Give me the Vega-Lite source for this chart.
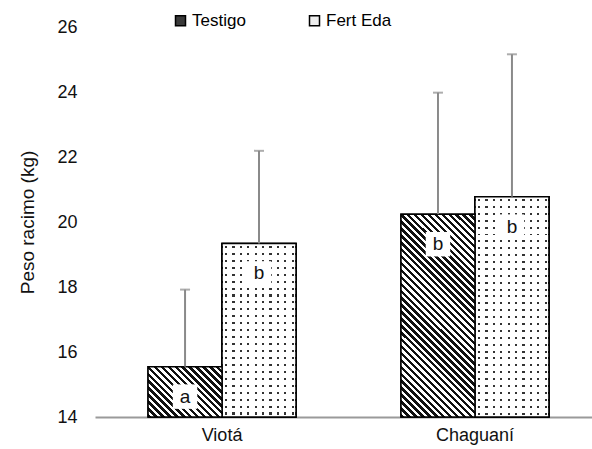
{
  "$schema": "https://vega.github.io/schema/vega-lite/v6.json",
  "autosize": {"type": "none"},
  "padding": {"left": 95, "top": 27, "right": 0, "bottom": 32},
  "width": 497,
  "height": 390,
  "background": "white",
  "config": {
    "font": "Liberation Sans",
    "view": {"stroke": null},
    "axis": {"labelFont": "Liberation Sans", "titleFont": "Liberation Sans", "labelColor": "#111", "titleColor": "#111"},
    "legend": {"labelFont": "Liberation Sans"}
  },
  "data": {
    "values": [
      {"cat": "Viotá", "trat": "Testigo", "mean": 15.55, "upper": 17.92, "letra": "a"},
      {"cat": "Viotá", "trat": "Fert Eda", "mean": 19.34, "upper": 22.19, "letra": "b"},
      {"cat": "Chaguaní", "trat": "Testigo", "mean": 20.24, "upper": 23.98, "letra": "b"},
      {"cat": "Chaguaní", "trat": "Fert Eda", "mean": 20.78, "upper": 25.16, "letra": "b"}
    ]
  },
  "encoding": {
    "x": {
      "field": "cat", "type": "nominal", "sort": ["Viotá", "Chaguaní"],
      "scale": {"paddingInner": 0.415, "paddingOuter": 0.19, "align": 0.552},
      "axis": {"title": null, "labelAngle": 0, "labelFontSize": 18, "labelPadding": 9, "ticks": false, "domainColor": "#9a9a9a", "domainWidth": 2}
    },
    "xOffset": {"field": "trat", "type": "nominal", "sort": ["Testigo", "Fert Eda"], "scale": {"paddingInner": 0, "paddingOuter": 0}}
  },
  "layer": [
    {
      "mark": {"type": "bar", "stroke": "black", "strokeWidth": 1.5},
      "encoding": {
        "y": {"field": "mean", "type": "quantitative", "scale": {"domain": [14, 26], "zero": false, "nice": false},
          "axis": {"title": "Peso racimo (kg)", "titleFontSize": 19, "titleFontWeight": "normal", "titlePadding": 19, "labelFontSize": 18, "labelPadding": 18, "values": [14, 16, 18, 20, 22, 24, 26], "grid": false, "ticks": false, "domain": false}},
        "y2": {"datum": 14},
        "fill": {"field": "trat", "type": "nominal", "sort": ["Testigo", "Fert Eda"],
          "scale": {"range": ["#3a3a3a", "#eeeeee"]},
          "legend": {"title": null, "orient": "none", "legendX": 77, "legendY": -15, "direction": "horizontal", "labelFontSize": 17, "labelOffset": 3, "columnPadding": 60, "symbolType": "square", "symbolSize": 100, "symbolStrokeColor": "black", "symbolStrokeWidth": 1.5, "padding": 0}}
      }
    },
    {
      "transform": [{"filter": "datum.trat == 'Fert Eda'"}],
      "mark": {"type": "bar", "stroke": "black", "strokeWidth": 1.5,
        "fill": {"gradient": "linear", "x1": 0, "y1": 0, "x2": 1, "y2": 0, "stops": [
          {"offset": 0, "color": "#fff"},
          {"offset": 0.04, "color": "#fff"}, {"offset": 0.04, "color": "#333"}, {"offset": 0.07, "color": "#333"}, {"offset": 0.07, "color": "#fff"},
          {"offset": 0.14, "color": "#fff"}, {"offset": 0.14, "color": "#333"}, {"offset": 0.17, "color": "#333"}, {"offset": 0.17, "color": "#fff"},
          {"offset": 0.24, "color": "#fff"}, {"offset": 0.24, "color": "#333"}, {"offset": 0.27, "color": "#333"}, {"offset": 0.27, "color": "#fff"},
          {"offset": 0.34, "color": "#fff"}, {"offset": 0.34, "color": "#333"}, {"offset": 0.37, "color": "#333"}, {"offset": 0.37, "color": "#fff"},
          {"offset": 0.44, "color": "#fff"}, {"offset": 0.44, "color": "#333"}, {"offset": 0.47, "color": "#333"}, {"offset": 0.47, "color": "#fff"},
          {"offset": 0.54, "color": "#fff"}, {"offset": 0.54, "color": "#333"}, {"offset": 0.57, "color": "#333"}, {"offset": 0.57, "color": "#fff"},
          {"offset": 0.64, "color": "#fff"}, {"offset": 0.64, "color": "#333"}, {"offset": 0.67, "color": "#333"}, {"offset": 0.67, "color": "#fff"},
          {"offset": 0.74, "color": "#fff"}, {"offset": 0.74, "color": "#333"}, {"offset": 0.77, "color": "#333"}, {"offset": 0.77, "color": "#fff"},
          {"offset": 0.84, "color": "#fff"}, {"offset": 0.84, "color": "#333"}, {"offset": 0.87, "color": "#333"}, {"offset": 0.87, "color": "#fff"},
          {"offset": 0.94, "color": "#fff"}, {"offset": 0.94, "color": "#333"}, {"offset": 0.97, "color": "#333"}, {"offset": 0.97, "color": "#fff"},
          {"offset": 1, "color": "#fff"}
        ]}},
      "encoding": {
        "y": {"field": "mean", "type": "quantitative"},
        "y2": {"datum": 14}
      }
    },
    {
      "transform": [{"filter": "datum.cat == 'Viotá' && datum.trat == 'Fert Eda'"}],
      "mark": {"type": "bar", "stroke": "black", "strokeWidth": 1.5,
        "fill": {"gradient": "linear", "x1": 0, "y1": 0, "x2": 0, "y2": 1, "stops": [
          {"offset": 0, "color": "#fff"},
          {"offset": 0.014, "color": "#fff"}, {"offset": 0.014, "color": "rgba(255,255,255,0)"}, {"offset": 0.026, "color": "rgba(255,255,255,0)"}, {"offset": 0.026, "color": "#fff"},
          {"offset": 0.054, "color": "#fff"}, {"offset": 0.054, "color": "rgba(255,255,255,0)"}, {"offset": 0.066, "color": "rgba(255,255,255,0)"}, {"offset": 0.066, "color": "#fff"},
          {"offset": 0.094, "color": "#fff"}, {"offset": 0.094, "color": "rgba(255,255,255,0)"}, {"offset": 0.106, "color": "rgba(255,255,255,0)"}, {"offset": 0.106, "color": "#fff"},
          {"offset": 0.134, "color": "#fff"}, {"offset": 0.134, "color": "rgba(255,255,255,0)"}, {"offset": 0.146, "color": "rgba(255,255,255,0)"}, {"offset": 0.146, "color": "#fff"},
          {"offset": 0.174, "color": "#fff"}, {"offset": 0.174, "color": "rgba(255,255,255,0)"}, {"offset": 0.186, "color": "rgba(255,255,255,0)"}, {"offset": 0.186, "color": "#fff"},
          {"offset": 0.214, "color": "#fff"}, {"offset": 0.214, "color": "rgba(255,255,255,0)"}, {"offset": 0.226, "color": "rgba(255,255,255,0)"}, {"offset": 0.226, "color": "#fff"},
          {"offset": 0.254, "color": "#fff"}, {"offset": 0.254, "color": "rgba(255,255,255,0)"}, {"offset": 0.266, "color": "rgba(255,255,255,0)"}, {"offset": 0.266, "color": "#fff"},
          {"offset": 0.294, "color": "#fff"}, {"offset": 0.294, "color": "rgba(255,255,255,0)"}, {"offset": 0.306, "color": "rgba(255,255,255,0)"}, {"offset": 0.306, "color": "#fff"},
          {"offset": 0.334, "color": "#fff"}, {"offset": 0.334, "color": "rgba(255,255,255,0)"}, {"offset": 0.346, "color": "rgba(255,255,255,0)"}, {"offset": 0.346, "color": "#fff"},
          {"offset": 0.374, "color": "#fff"}, {"offset": 0.374, "color": "rgba(255,255,255,0)"}, {"offset": 0.386, "color": "rgba(255,255,255,0)"}, {"offset": 0.386, "color": "#fff"},
          {"offset": 0.414, "color": "#fff"}, {"offset": 0.414, "color": "rgba(255,255,255,0)"}, {"offset": 0.426, "color": "rgba(255,255,255,0)"}, {"offset": 0.426, "color": "#fff"},
          {"offset": 0.454, "color": "#fff"}, {"offset": 0.454, "color": "rgba(255,255,255,0)"}, {"offset": 0.466, "color": "rgba(255,255,255,0)"}, {"offset": 0.466, "color": "#fff"},
          {"offset": 0.494, "color": "#fff"}, {"offset": 0.494, "color": "rgba(255,255,255,0)"}, {"offset": 0.506, "color": "rgba(255,255,255,0)"}, {"offset": 0.506, "color": "#fff"},
          {"offset": 0.534, "color": "#fff"}, {"offset": 0.534, "color": "rgba(255,255,255,0)"}, {"offset": 0.546, "color": "rgba(255,255,255,0)"}, {"offset": 0.546, "color": "#fff"},
          {"offset": 0.574, "color": "#fff"}, {"offset": 0.574, "color": "rgba(255,255,255,0)"}, {"offset": 0.586, "color": "rgba(255,255,255,0)"}, {"offset": 0.586, "color": "#fff"},
          {"offset": 0.614, "color": "#fff"}, {"offset": 0.614, "color": "rgba(255,255,255,0)"}, {"offset": 0.626, "color": "rgba(255,255,255,0)"}, {"offset": 0.626, "color": "#fff"},
          {"offset": 0.654, "color": "#fff"}, {"offset": 0.654, "color": "rgba(255,255,255,0)"}, {"offset": 0.666, "color": "rgba(255,255,255,0)"}, {"offset": 0.666, "color": "#fff"},
          {"offset": 0.694, "color": "#fff"}, {"offset": 0.694, "color": "rgba(255,255,255,0)"}, {"offset": 0.706, "color": "rgba(255,255,255,0)"}, {"offset": 0.706, "color": "#fff"},
          {"offset": 0.734, "color": "#fff"}, {"offset": 0.734, "color": "rgba(255,255,255,0)"}, {"offset": 0.746, "color": "rgba(255,255,255,0)"}, {"offset": 0.746, "color": "#fff"},
          {"offset": 0.774, "color": "#fff"}, {"offset": 0.774, "color": "rgba(255,255,255,0)"}, {"offset": 0.786, "color": "rgba(255,255,255,0)"}, {"offset": 0.786, "color": "#fff"},
          {"offset": 0.814, "color": "#fff"}, {"offset": 0.814, "color": "rgba(255,255,255,0)"}, {"offset": 0.826, "color": "rgba(255,255,255,0)"}, {"offset": 0.826, "color": "#fff"},
          {"offset": 0.854, "color": "#fff"}, {"offset": 0.854, "color": "rgba(255,255,255,0)"}, {"offset": 0.866, "color": "rgba(255,255,255,0)"}, {"offset": 0.866, "color": "#fff"},
          {"offset": 0.894, "color": "#fff"}, {"offset": 0.894, "color": "rgba(255,255,255,0)"}, {"offset": 0.906, "color": "rgba(255,255,255,0)"}, {"offset": 0.906, "color": "#fff"},
          {"offset": 0.934, "color": "#fff"}, {"offset": 0.934, "color": "rgba(255,255,255,0)"}, {"offset": 0.946, "color": "rgba(255,255,255,0)"}, {"offset": 0.946, "color": "#fff"},
          {"offset": 0.974, "color": "#fff"}, {"offset": 0.974, "color": "rgba(255,255,255,0)"}, {"offset": 0.986, "color": "rgba(255,255,255,0)"}, {"offset": 0.986, "color": "#fff"},
          {"offset": 1, "color": "#fff"}
        ]}},
      "encoding": {
        "y": {"field": "mean", "type": "quantitative"},
        "y2": {"datum": 14}
      }
    },
    {
      "transform": [{"filter": "datum.cat == 'Chaguaní' && datum.trat == 'Fert Eda'"}],
      "mark": {"type": "bar", "stroke": "black", "strokeWidth": 1.5,
        "fill": {"gradient": "linear", "x1": 0, "y1": 0, "x2": 0, "y2": 1, "stops": [
          {"offset": 0, "color": "#fff"},
          {"offset": 0.011, "color": "#fff"}, {"offset": 0.011, "color": "rgba(255,255,255,0)"}, {"offset": 0.02, "color": "rgba(255,255,255,0)"}, {"offset": 0.02, "color": "#fff"},
          {"offset": 0.04225, "color": "#fff"}, {"offset": 0.04225, "color": "rgba(255,255,255,0)"}, {"offset": 0.05125, "color": "rgba(255,255,255,0)"}, {"offset": 0.05125, "color": "#fff"},
          {"offset": 0.0735, "color": "#fff"}, {"offset": 0.0735, "color": "rgba(255,255,255,0)"}, {"offset": 0.0825, "color": "rgba(255,255,255,0)"}, {"offset": 0.0825, "color": "#fff"},
          {"offset": 0.10475, "color": "#fff"}, {"offset": 0.10475, "color": "rgba(255,255,255,0)"}, {"offset": 0.11375, "color": "rgba(255,255,255,0)"}, {"offset": 0.11375, "color": "#fff"},
          {"offset": 0.136, "color": "#fff"}, {"offset": 0.136, "color": "rgba(255,255,255,0)"}, {"offset": 0.145, "color": "rgba(255,255,255,0)"}, {"offset": 0.145, "color": "#fff"},
          {"offset": 0.16725, "color": "#fff"}, {"offset": 0.16725, "color": "rgba(255,255,255,0)"}, {"offset": 0.17625, "color": "rgba(255,255,255,0)"}, {"offset": 0.17625, "color": "#fff"},
          {"offset": 0.1985, "color": "#fff"}, {"offset": 0.1985, "color": "rgba(255,255,255,0)"}, {"offset": 0.2075, "color": "rgba(255,255,255,0)"}, {"offset": 0.2075, "color": "#fff"},
          {"offset": 0.22975, "color": "#fff"}, {"offset": 0.22975, "color": "rgba(255,255,255,0)"}, {"offset": 0.23875, "color": "rgba(255,255,255,0)"}, {"offset": 0.23875, "color": "#fff"},
          {"offset": 0.261, "color": "#fff"}, {"offset": 0.261, "color": "rgba(255,255,255,0)"}, {"offset": 0.27, "color": "rgba(255,255,255,0)"}, {"offset": 0.27, "color": "#fff"},
          {"offset": 0.29225, "color": "#fff"}, {"offset": 0.29225, "color": "rgba(255,255,255,0)"}, {"offset": 0.30125, "color": "rgba(255,255,255,0)"}, {"offset": 0.30125, "color": "#fff"},
          {"offset": 0.3235, "color": "#fff"}, {"offset": 0.3235, "color": "rgba(255,255,255,0)"}, {"offset": 0.3325, "color": "rgba(255,255,255,0)"}, {"offset": 0.3325, "color": "#fff"},
          {"offset": 0.35475, "color": "#fff"}, {"offset": 0.35475, "color": "rgba(255,255,255,0)"}, {"offset": 0.36375, "color": "rgba(255,255,255,0)"}, {"offset": 0.36375, "color": "#fff"},
          {"offset": 0.386, "color": "#fff"}, {"offset": 0.386, "color": "rgba(255,255,255,0)"}, {"offset": 0.395, "color": "rgba(255,255,255,0)"}, {"offset": 0.395, "color": "#fff"},
          {"offset": 0.41725, "color": "#fff"}, {"offset": 0.41725, "color": "rgba(255,255,255,0)"}, {"offset": 0.42625, "color": "rgba(255,255,255,0)"}, {"offset": 0.42625, "color": "#fff"},
          {"offset": 0.4485, "color": "#fff"}, {"offset": 0.4485, "color": "rgba(255,255,255,0)"}, {"offset": 0.4575, "color": "rgba(255,255,255,0)"}, {"offset": 0.4575, "color": "#fff"},
          {"offset": 0.47975, "color": "#fff"}, {"offset": 0.47975, "color": "rgba(255,255,255,0)"}, {"offset": 0.48875, "color": "rgba(255,255,255,0)"}, {"offset": 0.48875, "color": "#fff"},
          {"offset": 0.511, "color": "#fff"}, {"offset": 0.511, "color": "rgba(255,255,255,0)"}, {"offset": 0.52, "color": "rgba(255,255,255,0)"}, {"offset": 0.52, "color": "#fff"},
          {"offset": 0.54225, "color": "#fff"}, {"offset": 0.54225, "color": "rgba(255,255,255,0)"}, {"offset": 0.55125, "color": "rgba(255,255,255,0)"}, {"offset": 0.55125, "color": "#fff"},
          {"offset": 0.5735, "color": "#fff"}, {"offset": 0.5735, "color": "rgba(255,255,255,0)"}, {"offset": 0.5825, "color": "rgba(255,255,255,0)"}, {"offset": 0.5825, "color": "#fff"},
          {"offset": 0.60475, "color": "#fff"}, {"offset": 0.60475, "color": "rgba(255,255,255,0)"}, {"offset": 0.61375, "color": "rgba(255,255,255,0)"}, {"offset": 0.61375, "color": "#fff"},
          {"offset": 0.636, "color": "#fff"}, {"offset": 0.636, "color": "rgba(255,255,255,0)"}, {"offset": 0.645, "color": "rgba(255,255,255,0)"}, {"offset": 0.645, "color": "#fff"},
          {"offset": 0.66725, "color": "#fff"}, {"offset": 0.66725, "color": "rgba(255,255,255,0)"}, {"offset": 0.67625, "color": "rgba(255,255,255,0)"}, {"offset": 0.67625, "color": "#fff"},
          {"offset": 0.6985, "color": "#fff"}, {"offset": 0.6985, "color": "rgba(255,255,255,0)"}, {"offset": 0.7075, "color": "rgba(255,255,255,0)"}, {"offset": 0.7075, "color": "#fff"},
          {"offset": 0.72975, "color": "#fff"}, {"offset": 0.72975, "color": "rgba(255,255,255,0)"}, {"offset": 0.73875, "color": "rgba(255,255,255,0)"}, {"offset": 0.73875, "color": "#fff"},
          {"offset": 0.761, "color": "#fff"}, {"offset": 0.761, "color": "rgba(255,255,255,0)"}, {"offset": 0.77, "color": "rgba(255,255,255,0)"}, {"offset": 0.77, "color": "#fff"},
          {"offset": 0.79225, "color": "#fff"}, {"offset": 0.79225, "color": "rgba(255,255,255,0)"}, {"offset": 0.80125, "color": "rgba(255,255,255,0)"}, {"offset": 0.80125, "color": "#fff"},
          {"offset": 0.8235, "color": "#fff"}, {"offset": 0.8235, "color": "rgba(255,255,255,0)"}, {"offset": 0.8325, "color": "rgba(255,255,255,0)"}, {"offset": 0.8325, "color": "#fff"},
          {"offset": 0.85475, "color": "#fff"}, {"offset": 0.85475, "color": "rgba(255,255,255,0)"}, {"offset": 0.86375, "color": "rgba(255,255,255,0)"}, {"offset": 0.86375, "color": "#fff"},
          {"offset": 0.886, "color": "#fff"}, {"offset": 0.886, "color": "rgba(255,255,255,0)"}, {"offset": 0.895, "color": "rgba(255,255,255,0)"}, {"offset": 0.895, "color": "#fff"},
          {"offset": 0.91725, "color": "#fff"}, {"offset": 0.91725, "color": "rgba(255,255,255,0)"}, {"offset": 0.92625, "color": "rgba(255,255,255,0)"}, {"offset": 0.92625, "color": "#fff"},
          {"offset": 0.9485, "color": "#fff"}, {"offset": 0.9485, "color": "rgba(255,255,255,0)"}, {"offset": 0.9575, "color": "rgba(255,255,255,0)"}, {"offset": 0.9575, "color": "#fff"},
          {"offset": 0.97975, "color": "#fff"}, {"offset": 0.97975, "color": "rgba(255,255,255,0)"}, {"offset": 0.98875, "color": "rgba(255,255,255,0)"}, {"offset": 0.98875, "color": "#fff"},
          {"offset": 1, "color": "#fff"}
        ]}},
      "encoding": {
        "y": {"field": "mean", "type": "quantitative"},
        "y2": {"datum": 14}
      }
    },
    {
      "transform": [{"filter": "datum.cat == 'Viotá' && datum.trat == 'Testigo'"}],
      "mark": {"type": "bar", "stroke": "black", "strokeWidth": 1.5,
        "fill": {"gradient": "linear", "x1": 0, "y1": 1, "x2": 1.148, "y2": 0.218, "stops": [
          {"offset": 0, "color": "#111"}, {"offset": 0.0278, "color": "#111"}, {"offset": 0.0278, "color": "#fff"}, {"offset": 0.0556, "color": "#fff"},
          {"offset": 0.0556, "color": "#111"}, {"offset": 0.0833, "color": "#111"}, {"offset": 0.0833, "color": "#fff"}, {"offset": 0.1111, "color": "#fff"},
          {"offset": 0.1111, "color": "#111"}, {"offset": 0.1389, "color": "#111"}, {"offset": 0.1389, "color": "#fff"}, {"offset": 0.1667, "color": "#fff"},
          {"offset": 0.1667, "color": "#111"}, {"offset": 0.1944, "color": "#111"}, {"offset": 0.1944, "color": "#fff"}, {"offset": 0.2222, "color": "#fff"},
          {"offset": 0.2222, "color": "#111"}, {"offset": 0.25, "color": "#111"}, {"offset": 0.25, "color": "#fff"}, {"offset": 0.2778, "color": "#fff"},
          {"offset": 0.2778, "color": "#111"}, {"offset": 0.3056, "color": "#111"}, {"offset": 0.3056, "color": "#fff"}, {"offset": 0.3333, "color": "#fff"},
          {"offset": 0.3333, "color": "#111"}, {"offset": 0.3611, "color": "#111"}, {"offset": 0.3611, "color": "#fff"}, {"offset": 0.3889, "color": "#fff"},
          {"offset": 0.3889, "color": "#111"}, {"offset": 0.4167, "color": "#111"}, {"offset": 0.4167, "color": "#fff"}, {"offset": 0.4444, "color": "#fff"},
          {"offset": 0.4444, "color": "#111"}, {"offset": 0.4722, "color": "#111"}, {"offset": 0.4722, "color": "#fff"}, {"offset": 0.5, "color": "#fff"},
          {"offset": 0.5, "color": "#111"}, {"offset": 0.5278, "color": "#111"}, {"offset": 0.5278, "color": "#fff"}, {"offset": 0.5556, "color": "#fff"},
          {"offset": 0.5556, "color": "#111"}, {"offset": 0.5833, "color": "#111"}, {"offset": 0.5833, "color": "#fff"}, {"offset": 0.6111, "color": "#fff"},
          {"offset": 0.6111, "color": "#111"}, {"offset": 0.6389, "color": "#111"}, {"offset": 0.6389, "color": "#fff"}, {"offset": 0.6667, "color": "#fff"},
          {"offset": 0.6667, "color": "#111"}, {"offset": 0.6944, "color": "#111"}, {"offset": 0.6944, "color": "#fff"}, {"offset": 0.7222, "color": "#fff"},
          {"offset": 0.7222, "color": "#111"}, {"offset": 0.75, "color": "#111"}, {"offset": 0.75, "color": "#fff"}, {"offset": 0.7778, "color": "#fff"},
          {"offset": 0.7778, "color": "#111"}, {"offset": 0.8056, "color": "#111"}, {"offset": 0.8056, "color": "#fff"}, {"offset": 0.8333, "color": "#fff"},
          {"offset": 0.8333, "color": "#111"}, {"offset": 0.8611, "color": "#111"}, {"offset": 0.8611, "color": "#fff"}, {"offset": 0.8889, "color": "#fff"},
          {"offset": 0.8889, "color": "#111"}, {"offset": 0.9167, "color": "#111"}, {"offset": 0.9167, "color": "#fff"}, {"offset": 0.9444, "color": "#fff"},
          {"offset": 0.9444, "color": "#111"}, {"offset": 0.9722, "color": "#111"}, {"offset": 0.9722, "color": "#fff"}, {"offset": 1, "color": "#fff"}
        ]}},
      "encoding": {
        "y": {"field": "mean", "type": "quantitative"},
        "y2": {"datum": 14}
      }
    },
    {
      "transform": [{"filter": "datum.cat == 'Chaguaní' && datum.trat == 'Testigo'"}],
      "mark": {"type": "bar", "stroke": "black", "strokeWidth": 1.5,
        "fill": {"gradient": "linear", "x1": 0, "y1": 1, "x2": 0.439, "y2": -0.2045, "stops": [
          {"offset": 0, "color": "#111"}, {"offset": 0.0125, "color": "#111"}, {"offset": 0.0125, "color": "#fff"}, {"offset": 0.025, "color": "#fff"},
          {"offset": 0.025, "color": "#111"}, {"offset": 0.0375, "color": "#111"}, {"offset": 0.0375, "color": "#fff"}, {"offset": 0.05, "color": "#fff"},
          {"offset": 0.05, "color": "#111"}, {"offset": 0.0625, "color": "#111"}, {"offset": 0.0625, "color": "#fff"}, {"offset": 0.075, "color": "#fff"},
          {"offset": 0.075, "color": "#111"}, {"offset": 0.0875, "color": "#111"}, {"offset": 0.0875, "color": "#fff"}, {"offset": 0.1, "color": "#fff"},
          {"offset": 0.1, "color": "#111"}, {"offset": 0.1125, "color": "#111"}, {"offset": 0.1125, "color": "#fff"}, {"offset": 0.125, "color": "#fff"},
          {"offset": 0.125, "color": "#111"}, {"offset": 0.1375, "color": "#111"}, {"offset": 0.1375, "color": "#fff"}, {"offset": 0.15, "color": "#fff"},
          {"offset": 0.15, "color": "#111"}, {"offset": 0.1625, "color": "#111"}, {"offset": 0.1625, "color": "#fff"}, {"offset": 0.175, "color": "#fff"},
          {"offset": 0.175, "color": "#111"}, {"offset": 0.1875, "color": "#111"}, {"offset": 0.1875, "color": "#fff"}, {"offset": 0.2, "color": "#fff"},
          {"offset": 0.2, "color": "#111"}, {"offset": 0.2125, "color": "#111"}, {"offset": 0.2125, "color": "#fff"}, {"offset": 0.225, "color": "#fff"},
          {"offset": 0.225, "color": "#111"}, {"offset": 0.2375, "color": "#111"}, {"offset": 0.2375, "color": "#fff"}, {"offset": 0.25, "color": "#fff"},
          {"offset": 0.25, "color": "#111"}, {"offset": 0.2625, "color": "#111"}, {"offset": 0.2625, "color": "#fff"}, {"offset": 0.275, "color": "#fff"},
          {"offset": 0.275, "color": "#111"}, {"offset": 0.2875, "color": "#111"}, {"offset": 0.2875, "color": "#fff"}, {"offset": 0.3, "color": "#fff"},
          {"offset": 0.3, "color": "#111"}, {"offset": 0.3125, "color": "#111"}, {"offset": 0.3125, "color": "#fff"}, {"offset": 0.325, "color": "#fff"},
          {"offset": 0.325, "color": "#111"}, {"offset": 0.3375, "color": "#111"}, {"offset": 0.3375, "color": "#fff"}, {"offset": 0.35, "color": "#fff"},
          {"offset": 0.35, "color": "#111"}, {"offset": 0.3625, "color": "#111"}, {"offset": 0.3625, "color": "#fff"}, {"offset": 0.375, "color": "#fff"},
          {"offset": 0.375, "color": "#111"}, {"offset": 0.3875, "color": "#111"}, {"offset": 0.3875, "color": "#fff"}, {"offset": 0.4, "color": "#fff"},
          {"offset": 0.4, "color": "#111"}, {"offset": 0.4125, "color": "#111"}, {"offset": 0.4125, "color": "#fff"}, {"offset": 0.425, "color": "#fff"},
          {"offset": 0.425, "color": "#111"}, {"offset": 0.4375, "color": "#111"}, {"offset": 0.4375, "color": "#fff"}, {"offset": 0.45, "color": "#fff"},
          {"offset": 0.45, "color": "#111"}, {"offset": 0.4625, "color": "#111"}, {"offset": 0.4625, "color": "#fff"}, {"offset": 0.475, "color": "#fff"},
          {"offset": 0.475, "color": "#111"}, {"offset": 0.4875, "color": "#111"}, {"offset": 0.4875, "color": "#fff"}, {"offset": 0.5, "color": "#fff"},
          {"offset": 0.5, "color": "#111"}, {"offset": 0.5125, "color": "#111"}, {"offset": 0.5125, "color": "#fff"}, {"offset": 0.525, "color": "#fff"},
          {"offset": 0.525, "color": "#111"}, {"offset": 0.5375, "color": "#111"}, {"offset": 0.5375, "color": "#fff"}, {"offset": 0.55, "color": "#fff"},
          {"offset": 0.55, "color": "#111"}, {"offset": 0.5625, "color": "#111"}, {"offset": 0.5625, "color": "#fff"}, {"offset": 0.575, "color": "#fff"},
          {"offset": 0.575, "color": "#111"}, {"offset": 0.5875, "color": "#111"}, {"offset": 0.5875, "color": "#fff"}, {"offset": 0.6, "color": "#fff"},
          {"offset": 0.6, "color": "#111"}, {"offset": 0.6125, "color": "#111"}, {"offset": 0.6125, "color": "#fff"}, {"offset": 0.625, "color": "#fff"},
          {"offset": 0.625, "color": "#111"}, {"offset": 0.6375, "color": "#111"}, {"offset": 0.6375, "color": "#fff"}, {"offset": 0.65, "color": "#fff"},
          {"offset": 0.65, "color": "#111"}, {"offset": 0.6625, "color": "#111"}, {"offset": 0.6625, "color": "#fff"}, {"offset": 0.675, "color": "#fff"},
          {"offset": 0.675, "color": "#111"}, {"offset": 0.6875, "color": "#111"}, {"offset": 0.6875, "color": "#fff"}, {"offset": 0.7, "color": "#fff"},
          {"offset": 0.7, "color": "#111"}, {"offset": 0.7125, "color": "#111"}, {"offset": 0.7125, "color": "#fff"}, {"offset": 0.725, "color": "#fff"},
          {"offset": 0.725, "color": "#111"}, {"offset": 0.7375, "color": "#111"}, {"offset": 0.7375, "color": "#fff"}, {"offset": 0.75, "color": "#fff"},
          {"offset": 0.75, "color": "#111"}, {"offset": 0.7625, "color": "#111"}, {"offset": 0.7625, "color": "#fff"}, {"offset": 0.775, "color": "#fff"},
          {"offset": 0.775, "color": "#111"}, {"offset": 0.7875, "color": "#111"}, {"offset": 0.7875, "color": "#fff"}, {"offset": 0.8, "color": "#fff"},
          {"offset": 0.8, "color": "#111"}, {"offset": 0.8125, "color": "#111"}, {"offset": 0.8125, "color": "#fff"}, {"offset": 0.825, "color": "#fff"},
          {"offset": 0.825, "color": "#111"}, {"offset": 0.8375, "color": "#111"}, {"offset": 0.8375, "color": "#fff"}, {"offset": 0.85, "color": "#fff"},
          {"offset": 0.85, "color": "#111"}, {"offset": 0.8625, "color": "#111"}, {"offset": 0.8625, "color": "#fff"}, {"offset": 0.875, "color": "#fff"},
          {"offset": 0.875, "color": "#111"}, {"offset": 0.8875, "color": "#111"}, {"offset": 0.8875, "color": "#fff"}, {"offset": 0.9, "color": "#fff"},
          {"offset": 0.9, "color": "#111"}, {"offset": 0.9125, "color": "#111"}, {"offset": 0.9125, "color": "#fff"}, {"offset": 0.925, "color": "#fff"},
          {"offset": 0.925, "color": "#111"}, {"offset": 0.9375, "color": "#111"}, {"offset": 0.9375, "color": "#fff"}, {"offset": 0.95, "color": "#fff"},
          {"offset": 0.95, "color": "#111"}, {"offset": 0.9625, "color": "#111"}, {"offset": 0.9625, "color": "#fff"}, {"offset": 0.975, "color": "#fff"},
          {"offset": 0.975, "color": "#111"}, {"offset": 0.9875, "color": "#111"}, {"offset": 0.9875, "color": "#fff"}, {"offset": 1, "color": "#fff"}
        ]}},
      "encoding": {
        "y": {"field": "mean", "type": "quantitative"},
        "y2": {"datum": 14}
      }
    },
    {
      "mark": {"type": "rule", "color": "#8a8a8a", "strokeWidth": 2},
      "encoding": {
        "y": {"field": "mean", "type": "quantitative"},
        "y2": {"field": "upper"}
      }
    },
    {
      "mark": {"type": "tick", "color": "#8a8a8a", "size": 10, "thickness": 2, "orient": "horizontal"},
      "encoding": {
        "y": {"field": "upper", "type": "quantitative"}
      }
    },
    {
      "mark": {"type": "point", "shape": "square", "filled": true, "fill": "white", "opacity": 1, "size": 600, "yOffset": 30},
      "encoding": {
        "y": {"field": "mean", "type": "quantitative"}
      }
    },
    {
      "mark": {"type": "text", "fontSize": 19, "color": "#111", "baseline": "middle", "align": "center", "yOffset": 30},
      "encoding": {
        "y": {"field": "mean", "type": "quantitative"},
        "text": {"field": "letra"}
      }
    }
  ]
}
